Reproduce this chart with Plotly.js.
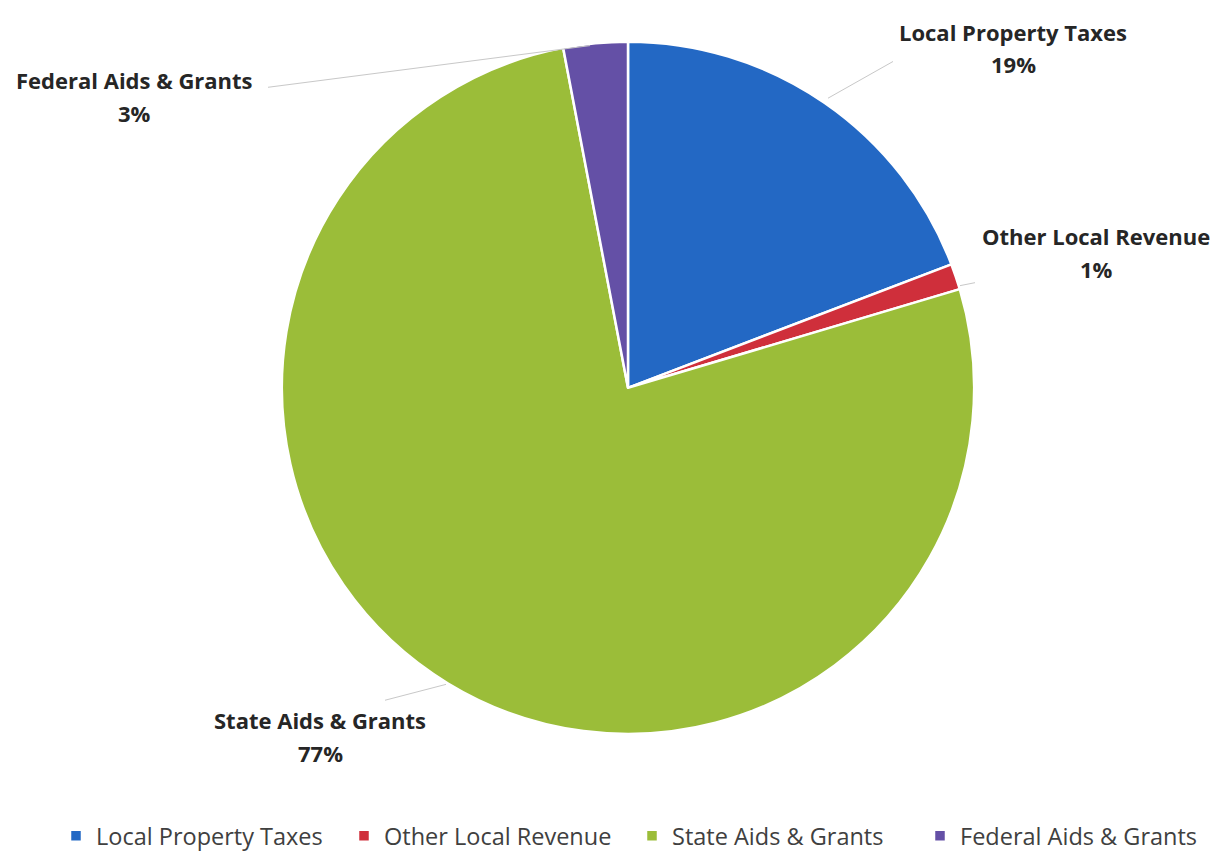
<!DOCTYPE html>
<html>
<head>
<meta charset="utf-8">
<script src="https://cdn.plot.ly/plotly-3.0.1.min.js"></script>
<style>html,body{margin:0;padding:0;background:#fff;}#chart{width:1218px;height:858px;}</style>
</head>
<body>
<div id="chart"></div>
<script>
const categories = ["Local Property Taxes", "Other Local Revenue", "State Aids & Grants", "Federal Aids & Grants"];
const values = [19.2, 1.2, 76.6, 3.0];
const colors = ["#2368c4", "#cf2f3b", "#9bbd39", "#6450a6"];

const total = values.reduce((a, b) => a + b, 0);
const pct = values.map(v => Math.round(v / total * 100) + "%");

// label anchor positions (pixels) for the callouts
const labelPos = [[1013, 32], [1096, 238], [320, 726], [134, 81]];
const W = 1218, H = 858;
const annotations = [];
categories.forEach((c, i) => {
  const [x, y] = labelPos[i];
  annotations.push({x: x / W, y: 1 - y / H, xref: 'paper', yref: 'paper', text: '<b>' + c + '</b>', showarrow: false,
    font: {family: 'Open Sans, sans-serif', size: 22, color: '#262626'}, xanchor: 'center', yanchor: 'middle'});
  annotations.push({x: x / W, y: 1 - (y + 33) / H, xref: 'paper', yref: 'paper', text: '<b>' + pct[i] + '</b>', showarrow: false,
    font: {family: 'Open Sans, sans-serif', size: 22, color: '#262626'}, xanchor: 'center', yanchor: 'middle'});
});

const leaders = [
  [[828, 99], [893, 62]],
  [[960, 288], [975, 285]],
  [[446, 690], [385, 706]],
  [[590, 46], [268, 88]]
];
const shapes = leaders.map(l => ({type: 'line', xref: 'paper', yref: 'paper',
  x0: l[0][0] / W, y0: 1 - l[0][1] / H, x1: l[1][0] / W, y1: 1 - l[1][1] / H,
  line: {color: '#c8c8c8', width: 1}}));

const data = [{
  type: 'pie',
  labels: categories,
  values: values,
  sort: false,
  direction: 'clockwise',
  rotation: 0,
  textinfo: 'none',
  hoverinfo: 'label+percent',
  marker: {colors: colors, line: {color: '#ffffff', width: 2.5}},
  domain: {x: [(628 - 349) / W, (628 + 349) / W], y: [1 - 740 / H, 1 - 42 / H]}
}];

const layout = {
  width: W, height: H,
  margin: {l: 0, r: 0, t: 0, b: 0},
  paper_bgcolor: '#ffffff',
  showlegend: true,
  legend: {orientation: 'h', x: 56 / W, xanchor: 'left', y: 1 - 843 / H, yanchor: 'middle',
    font: {family: 'Open Sans, sans-serif', size: 23.5, color: '#404040'}, entrywidth: 243, entrywidthmode: 'pixels', traceorder: 'normal'},
  annotations: annotations,
  shapes: shapes
};
Plotly.newPlot('chart', data, layout, {displayModeBar: false});
</script>
</body>
</html>
